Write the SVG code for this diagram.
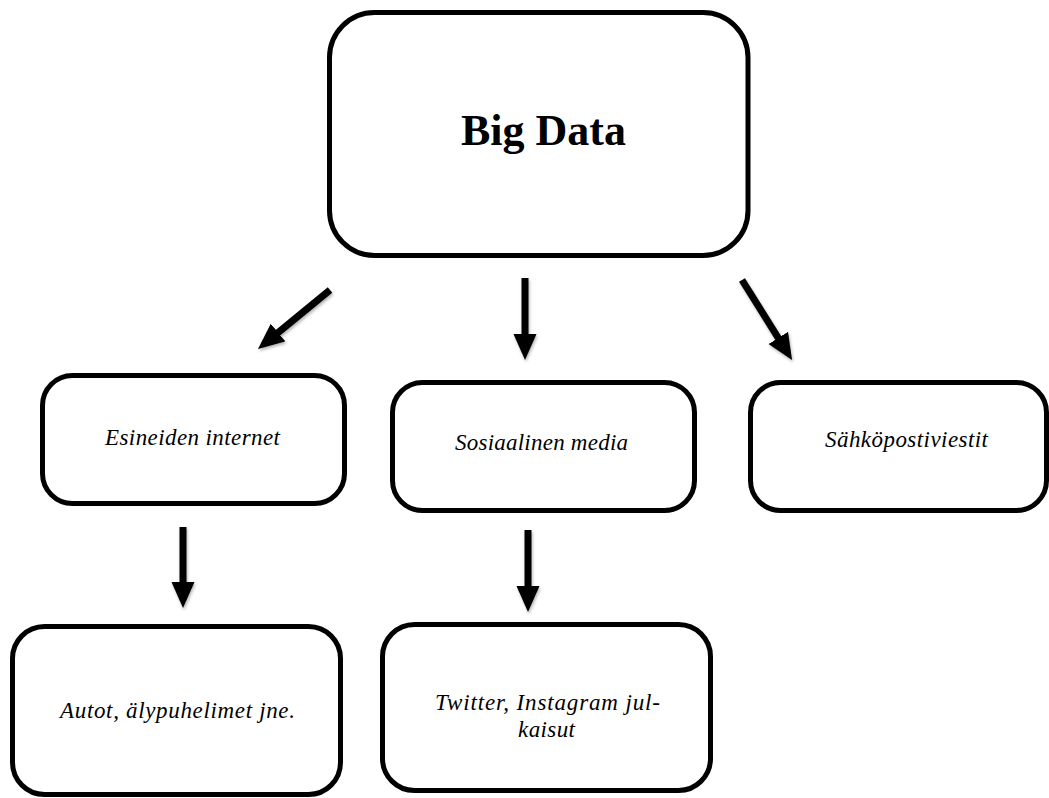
<svg xmlns="http://www.w3.org/2000/svg" width="1049" height="798" viewBox="0 0 1049 798">
  <style>
    .box { fill: #ffffff; stroke: #000000; stroke-width: 5; }
    .title { font-family: "Liberation Serif", "Times New Roman", serif; font-weight: bold; font-size: 44px; fill: #000; text-anchor: middle; }
    .lbl { font-family: "Liberation Serif", "Times New Roman", serif; font-style: italic; font-size: 23px; fill: #000; text-anchor: middle; }
    .arrow { stroke: #000; stroke-width: 7; fill: none; marker-end: url(#head); }
  </style>
  <defs>
    <marker id="head" markerUnits="userSpaceOnUse" viewBox="0 -12 27 24" markerWidth="27" markerHeight="24" refX="1" refY="0" orient="auto">
      <path d="M0,-11.5 L26,0 L0,11.5 Z" fill="#000"/>
    </marker>
    <filter id="shadow" filterUnits="userSpaceOnUse" x="0" y="0" width="1049" height="798">
      <feDropShadow dx="1" dy="2" stdDeviation="1.5" flood-color="#000" flood-opacity="0.3"/>
    </filter>
  </defs>
  <rect width="1049" height="798" fill="#ffffff"/>

  <g id="connectors" filter="url(#shadow)">
    <line class="arrow" x1="330" y1="290" x2="277.3" y2="333.2"/>
    <line class="arrow" x1="525" y1="278" x2="525" y2="335"/>
    <line class="arrow" x1="742" y1="280" x2="778.8" y2="338.8"/>
    <line class="arrow" x1="183" y1="527" x2="183" y2="583"/>
    <line class="arrow" x1="528" y1="530" x2="528" y2="587"/>
  </g>

  <g id="big-data">
    <rect class="box" x="329.5" y="12.5" width="418.5" height="243" rx="45" ry="45"/>
    <text class="title" x="543.5" y="145">Big Data</text>
  </g>

  <g id="esineiden-internet">
    <rect class="box" x="42.5" y="375.5" width="302" height="128" rx="30" ry="30"/>
    <text class="lbl" x="192.5" y="445" textLength="175">Esineiden internet</text>
  </g>

  <g id="sosiaalinen-media">
    <rect class="box" x="392.5" y="382.5" width="302" height="128" rx="30" ry="30"/>
    <text class="lbl" x="541.5" y="450" textLength="173">Sosiaalinen media</text>
  </g>

  <g id="sahkopostiviestit">
    <rect class="box" x="750.5" y="382.5" width="296" height="128" rx="30" ry="30"/>
    <text class="lbl" x="906.5" y="447" textLength="163">Sähköpostiviestit</text>
  </g>

  <g id="autot">
    <rect class="box" x="12.5" y="626.5" width="328" height="168" rx="32" ry="32"/>
    <text class="lbl" x="177.5" y="718" textLength="235">Autot, älypuhelimet jne.</text>
  </g>

  <g id="twitter-instagram">
    <rect class="box" x="382.5" y="624.5" width="328" height="166" rx="32" ry="32"/>
    <text class="lbl" x="547.5" y="710" textLength="225">Twitter, Instagram jul-</text>
    <text class="lbl" x="546.5" y="737" textLength="57">kaisut</text>
  </g>
</svg>
